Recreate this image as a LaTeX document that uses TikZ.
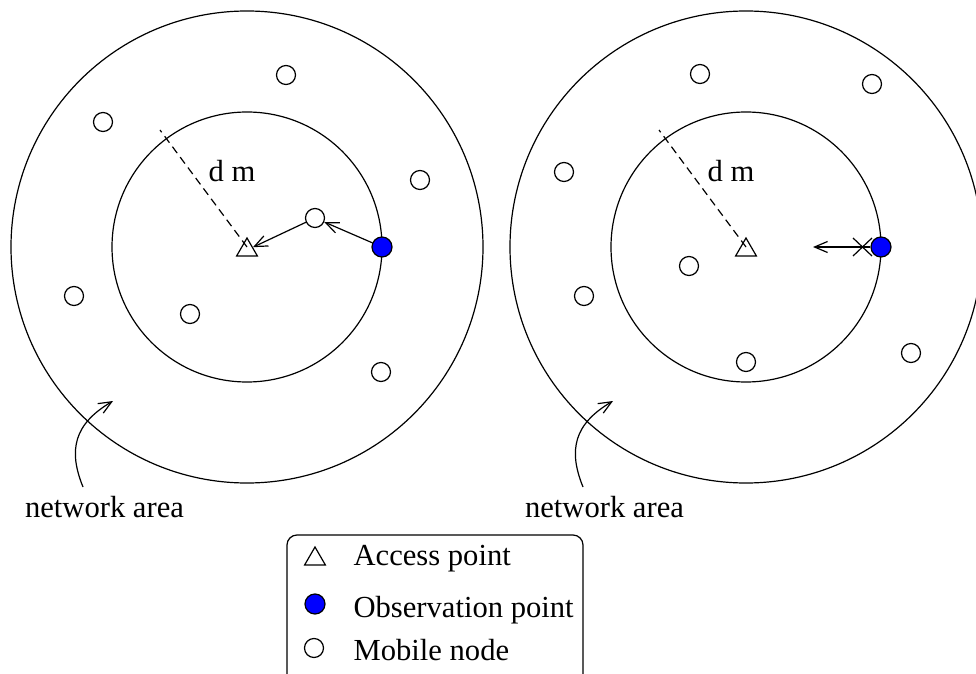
\documentclass[tikz,border=0pt]{standalone}
\usepackage{fontspec}
\setmainfont{Liberation Serif}
\usetikzlibrary{shapes.geometric,arrows.meta}
\begin{document}
\begin{tikzpicture}[x=0.5pt,y=-0.5pt,
  line width=0.6pt,
  ring/.style={draw,line width=0.6pt},
  mnode/.style={circle,draw,fill=white,minimum size=9.5pt,inner sep=0pt},
  obs/.style={circle,draw,fill=blue,minimum size=10pt,inner sep=0pt},
  apnode/.style={regular polygon,regular polygon sides=3,draw,minimum size=12pt,inner sep=0pt},
  lbl/.style={font=\fontsize{15.3}{18}\selectfont,inner sep=0pt},
  arr/.style={-{Straight Barb[length=6.5pt,width=5.5pt]}},
  dline/.style={dash pattern=on 4pt off 2.5pt},
]
\useasboundingbox (0,0) rectangle (976,674);
\clip (0,0) rectangle (976,674);

% ---------- left panel ----------
\coordinate (cL) at (247,247);
\draw[ring] (cL) circle[radius=236];
\draw[ring] (cL) circle[radius=135];
\coordinate (dL) at (160,130);
\draw[dline] (cL) -- (dL);
\node[apnode] (apL) at (247,250) {};
\node[lbl,anchor=base] (dmL) at (232,182) {d m};

\node[mnode] (l1) at (286,75) {};
\node[mnode] (l2) at (103,122) {};
\node[mnode] (l3) at (420,180) {};
\node[mnode] (l4) at (315,218) {};
\node[mnode] (l5) at (74,296) {};
\node[mnode] (l6) at (190,314) {};
\node[mnode] (l7) at (381,372) {};
\node[obs] (obsL) at (382,247) {};

\draw[arr] (obsL) -- (l4);
\draw[arr] (l4) -- (apL);

\coordinate (naLs) at (83,487);
\coordinate (naLt) at (113,401);
\draw[arr] (naLs) .. controls (68,450) and (74,424) .. (naLt);
\node[lbl,anchor=base] (naL) at (104.5,517) {network area};

% ---------- right panel ----------
\coordinate (cR) at (746,247);
\draw[ring] (cR) circle[radius=236];
\draw[ring] (cR) circle[radius=135];
\coordinate (dR) at (659,130);
\draw[dline] (cR) -- (dR);
\node[apnode] (apR) at (746,250) {};
\node[lbl,anchor=base] (dmR) at (731,182) {d m};

\node[mnode] (r1) at (700,74) {};
\node[mnode] (r2) at (872,84) {};
\node[mnode] (r3) at (564,172) {};
\node[mnode] (r4) at (689,266) {};
\node[mnode] (r5) at (584,296) {};
\node[mnode] (r6) at (746,362) {};
\node[mnode] (r7) at (911,353) {};
\node[obs] (obsR) at (881,247) {};

\coordinate (tipR) at (813,247);
\draw[arr] (obsR) -- (tipR);
\coordinate (xa) at (853,238);
\coordinate (xb) at (872,256);
\coordinate (xc) at (853,256);
\coordinate (xd) at (872,238);
\draw (xa) -- (xb);
\draw (xc) -- (xd);

\coordinate (naRs) at (583,487);
\coordinate (naRt) at (613,401);
\draw[arr] (naRs) .. controls (568,450) and (574,424) .. (naRt);
\node[lbl,anchor=base] (naR) at (604.5,517) {network area};

% ---------- legend ----------
\coordinate (lg1) at (287,700);
\coordinate (lg2) at (287,535);
\coordinate (lg3) at (583,535);
\coordinate (lg4) at (583,700);
\draw[rounded corners=5pt] (lg1) -- (lg2) -- (lg3) -- (lg4);
\node[apnode] (kap) at (315,559) {};
\node[obs] (kobs) at (315,604) {};
\node[mnode] (kmn) at (314,648) {};
\node[lbl,anchor=base west] (tap) at (353,565) {Access point};
\node[lbl,anchor=base west] (tobs) at (353,617) {Observation point};
\node[lbl,anchor=base west] (tmn) at (353,660) {Mobile node};
\end{tikzpicture}
\end{document}
